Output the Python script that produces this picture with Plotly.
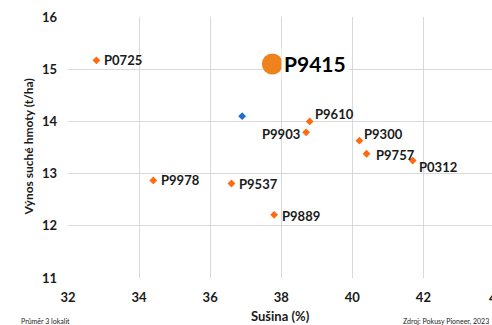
import plotly.graph_objects as go

hybrids = ["P0725", "P9610", "P9903", "P9300", "P9757", "P0312", "P9978", "P9537", "P9889"]
susina = [32.8, 38.8, 38.7, 40.2, 40.4, 41.7, 34.4, 36.6, 37.8]
vynos = [15.17, 14.0, 13.79, 13.63, 13.38, 13.25, 12.87, 12.81, 12.21]

blue_x = [36.9]
blue_y = [14.1]

hl_name = "P9415"
hl_x = [37.75]
hl_y = [15.1]

x_ticks = [32, 34, 36, 38, 40, 42, 44]
y_ticks = [11, 12, 13, 14, 15, 16]

# label placement: (anchor side, x shift px, y shift px)
label_style = {
    "P0725": ("left", 7, 0), "P9610": ("left", 4, 7), "P9903": ("right", -5, -2),
    "P9300": ("left", 4, 7), "P9757": ("left", 8, -1), "P0312": ("left", 5, -6),
    "P9978": ("left", 7, 0), "P9537": ("left", 7, 0), "P9889": ("left", 7, -1),
}

FONT = "Lato, 'Open Sans', sans-serif"
X_MIN, X_MAX = 32, 43.93
W, H = 492, 325
L, R, T, B = 68, 0, 17, 47
PW, PH = W - L - R, H - T - B

fig = go.Figure()
fig.add_trace(go.Scatter(
    x=susina, y=vynos, mode="markers",
    marker=dict(symbol="diamond", size=6, color="#FF6A0E"),
    showlegend=False, hoverinfo="skip",
))
fig.add_trace(go.Scatter(
    x=blue_x, y=blue_y, mode="markers",
    marker=dict(symbol="diamond", size=6, color="#1F6ED4"),
    showlegend=False, hoverinfo="skip",
))
fig.add_trace(go.Scatter(
    x=hl_x, y=hl_y, mode="markers",
    marker=dict(symbol="circle", size=21, color="#F0821E"),
    showlegend=False, hoverinfo="skip",
))
for name, xv, yv in zip(hybrids, susina, vynos):
    side, dx, dy = label_style[name]
    fig.add_annotation(
        x=xv, y=yv, xref="x", yref="y", text="<b>%s</b>" % name,
        showarrow=False, xanchor=side, yanchor="middle", xshift=dx, yshift=dy,
        font=dict(family=FONT, size=13, color="#1a1a1a"), borderpad=0,
    )
fig.add_annotation(
    x=hl_x[0], y=hl_y[0], xref="x", yref="y", text="<b>" + hl_name + "</b>",
    showarrow=False, xanchor="left", xshift=9,
    font=dict(family=FONT, size=21, color="#000000"),
    bgcolor="white", borderpad=2,
)
# partially visible tick label at the right edge
fig.add_annotation(
    x=(487 - L) / PW, y=0, xref="paper", yref="paper",
    text="<b>%d</b>" % x_ticks[-1], showarrow=False,
    xanchor="left", yanchor="top", yshift=-10,
    font=dict(family=FONT, size=13, color="#1a1a1a"),
)
# axis titles
fig.add_annotation(
    x=(28 - L) / PW, y=0.5, xref="paper", yref="paper",
    text="<b>Výnos suché hmoty (t/ha)</b>", textangle=-90, showarrow=False,
    xanchor="center", yanchor="middle",
    font=dict(family=FONT, size=12, color="#1a1a1a"),
)
fig.add_annotation(
    x=0.5, y=(T + PH - 316) / PH, xref="paper", yref="paper",
    text="<b>Sušina (%)</b>", showarrow=False,
    xanchor="center", yanchor="middle",
    font=dict(family=FONT, size=13, color="#1a1a1a"),
)
fig.add_annotation(
    x=(20 - L) / PW, y=(T + PH - 321) / PH, xref="paper", yref="paper", text="Průměr 3 lokalit",
    showarrow=False, xanchor="left", yanchor="middle",
    font=dict(family=FONT, size=7, color="#222"), borderpad=0,
)
fig.add_annotation(
    x=(402 - L) / PW, y=(T + PH - 321) / PH, xref="paper", yref="paper",
    text="Zdroj: Pokusy Pioneer, 2023",
    showarrow=False, xanchor="left", yanchor="middle",
    font=dict(family=FONT, size=7, color="#222"), borderpad=0,
)

fig.update_layout(
    width=W, height=H,
    margin=dict(l=L, r=R, t=T, b=B, autoexpand=False),
    paper_bgcolor="white", plot_bgcolor="white",
    font=dict(family=FONT, color="#1a1a1a"),
    hovermode=False,
    xaxis=dict(
        range=[X_MIN, X_MAX], tickvals=x_ticks[:-1],
        ticktext=["<b>%d</b>" % v for v in x_ticks[:-1]],
        showgrid=True, gridcolor="#d9d9d9", automargin=False,
        gridwidth=1, zeroline=False, showline=False, ticks="",
        ticklabelstandoff=10,
        tickfont=dict(family=FONT, size=13),
    ),
    yaxis=dict(
        range=[11, 16], tickvals=y_ticks,
        ticktext=["<b>%d</b>" % v for v in y_ticks],
        showgrid=True, gridcolor="#d9d9d9", automargin=False,
        gridwidth=1, zeroline=False, showline=False, ticks="",
        ticklabelstandoff=10,
        tickfont=dict(family=FONT, size=13),
    ),
)

fig.write_html("out.html", config={"displayModeBar": False},
               post_script="document.body.style.margin='0';")
